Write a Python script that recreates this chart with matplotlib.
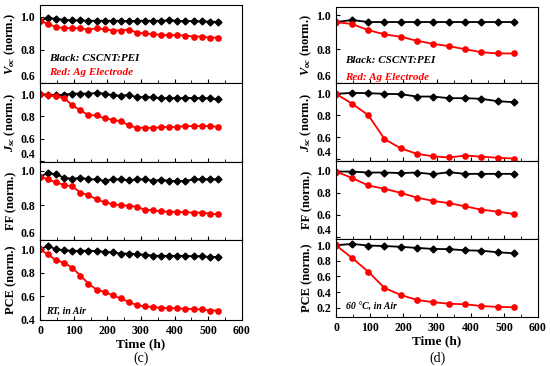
import matplotlib
matplotlib.use("Agg")
import matplotlib.pyplot as plt
import matplotlib.transforms as mtrans
import numpy as np

plt.rcParams['font.family'] = ['Liberation Serif', 'DejaVu Serif']
plt.rcParams['font.weight'] = 'bold'
plt.rcParams['mathtext.fontset'] = 'custom'
plt.rcParams['mathtext.rm'] = 'Liberation Serif:bold'
plt.rcParams['mathtext.it'] = 'Liberation Serif:bold:italic'

### data (c) : RT, in air, every 24 h
t_c = np.arange(0, 529, 24)
voc_c_black = [0.975, 0.994, 0.985, 0.981, 0.977, 0.977, 0.975, 0.975, 0.975, 0.975, 0.975, 0.973,
               0.975, 0.975, 0.975, 0.975, 0.977, 0.975, 0.973, 0.973, 0.971, 0.970, 0.968]
voc_c_red = [0.975, 0.956, 0.937, 0.931, 0.931, 0.929, 0.922, 0.929, 0.924, 0.916, 0.916, 0.922,
             0.903, 0.899, 0.895, 0.890, 0.888, 0.888, 0.886, 0.880, 0.880, 0.872, 0.874]
jsc_c_black = [1.0, 0.995, 0.99, 0.995, 1.005, 1.005, 1.005, 1.01, 1.005, 0.99, 0.985, 0.995,
               0.97, 0.975, 0.97, 0.965, 0.965, 0.965, 0.965, 0.965, 0.965, 0.962, 0.955]
jsc_c_red = [1.0, 0.991, 0.979, 0.964, 0.90, 0.854, 0.812, 0.809, 0.782, 0.77, 0.755, 0.72,
             0.696, 0.70, 0.695, 0.705, 0.705, 0.705, 0.713, 0.713, 0.713, 0.713, 0.705]
ff_c_black = [0.965, 0.987, 0.978, 0.96, 0.952, 0.96, 0.95, 0.95, 0.941, 0.95, 0.95, 0.945,
              0.95, 0.95, 0.941, 0.948, 0.941, 0.941, 0.941, 0.95, 0.95, 0.95, 0.95]
ff_c_red = [0.965, 0.95, 0.932, 0.917, 0.91, 0.873, 0.859, 0.835, 0.817, 0.807, 0.80, 0.798,
            0.791, 0.774, 0.772, 0.765, 0.763, 0.763, 0.76, 0.758, 0.758, 0.752, 0.748]
pce_c_black = [1.0, 1.03, 1.0, 0.994, 0.988, 0.988, 0.99, 0.986, 0.98, 0.974, 0.965, 0.965,
               0.96, 0.954, 0.948, 0.945, 0.945, 0.945, 0.945, 0.942, 0.942, 0.936, 0.936]
pce_c_red = [1.0, 0.957, 0.907, 0.887, 0.843, 0.777, 0.71, 0.658, 0.638, 0.609, 0.583, 0.554,
             0.525, 0.516, 0.51, 0.504, 0.501, 0.499, 0.496, 0.493, 0.49, 0.48, 0.48]

### data (d) : 60 °C, in air, every 48 h
t_d = np.arange(0, 529, 48)
voc_d_black = [0.961, 0.973, 0.961, 0.961, 0.961, 0.961, 0.961, 0.961, 0.961, 0.961, 0.961, 0.961]
voc_d_red = [0.961, 0.949, 0.913, 0.888, 0.874, 0.85, 0.832, 0.818, 0.80, 0.782, 0.775, 0.775]
jsc_d_black = [1.0, 1.009, 1.006, 1.0, 0.997, 0.975, 0.975, 0.96, 0.96, 0.954, 0.932, 0.923]
jsc_d_red = [1.0, 0.908, 0.803, 0.583, 0.497, 0.447, 0.423, 0.413, 0.43, 0.42, 0.41, 0.403]
ff_d_black = [0.994, 0.994, 0.985, 0.985, 0.98, 0.985, 0.97, 0.988, 0.973, 0.973, 0.973, 0.973]
ff_d_red = [0.994, 0.935, 0.867, 0.837, 0.80, 0.757, 0.727, 0.706, 0.677, 0.647, 0.629, 0.608]
pce_d_black = [1.0, 1.017, 0.996, 0.99, 0.98, 0.966, 0.953, 0.95, 0.935, 0.93, 0.91, 0.897]
pce_d_red = [1.0, 0.836, 0.66, 0.453, 0.363, 0.30, 0.27, 0.25, 0.243, 0.22, 0.21, 0.205]

ylabels = ['$V_{oc}$ (norm.)', '$J_{sc}$ (norm.)', 'FF (norm.)', 'PCE (norm.)']

W, H = 550.0, 366.0
fig = plt.figure(figsize=(5.5, 3.66), dpi=100)


def make_axes(x0, x1, rows):
    axs = []
    for k in range(4):
        top, bot = rows[k], rows[k + 1]
        ax = fig.add_axes([x0 / W, 1 - bot / H, (x1 - x0) / W, (bot - top) / H])
        axs.append(ax)
    return axs


def style(ax, ylim, yticks, bottom):
    ax.set_xlim(0, 600)
    ax.set_ylim(*ylim)
    ax.set_xticks(np.arange(0, 601, 100))
    ax.set_xticks(np.arange(50, 600, 100), minor=True)
    ax.tick_params(direction='in', which='both', top=False, right=False, labelsize=8.5)
    ax.tick_params(which='major', length=3)
    ax.tick_params(which='minor', length=2)
    for s in ax.spines.values():
        s.set_linewidth(0.8)
    labels = ['%.1f' % v for v in yticks]
    if not bottom:
        ax.tick_params(labelbottom=False)
        # lowest label sits on the panel edge instead of centred (Origin style)
        tr = mtrans.blended_transform_factory(ax.transAxes, ax.transData)
        tr = mtrans.offset_copy(tr, fig=fig, x=-3.5, y=0, units='points')
        ax.text(0, yticks[0], labels[0], transform=tr, ha='right', va='bottom',
                fontsize=8.5, fontweight='bold')
        labels[0] = ''
    ax.set_yticks(yticks)
    ax.set_yticklabels(labels)


def panel(axs, t, sets, ylims, yticks, note, note_xy, txt_y):
    for k, ax in enumerate(axs):
        blk, red = sets[k]
        ax.plot(t, blk, color='black', marker='D', ms=3.5, lw=1.3)
        ax.plot(t, red, color='red', marker='o', ms=3.8, lw=1.3)
        style(ax, ylims[k], yticks[k], k == 3)
        ax.set_ylabel(ylabels[k], fontsize=9, fontweight='bold', labelpad=2)
    axs[0].text(0.045, txt_y[0], 'Black: CSCNT:PEI', transform=axs[0].transAxes, fontsize=8,
                style='italic', fontweight='bold', color='black', va='center')
    axs[0].text(0.045, txt_y[1], 'Red: Ag Electrode', transform=axs[0].transAxes, fontsize=8,
                style='italic', fontweight='bold', color='red', va='center')
    axs[3].text(note_xy[0], note_xy[1], note, transform=axs[3].transAxes, fontsize=7,
                style='italic', fontweight='bold', va='center')
    axs[3].set_xlabel('Time (h)', fontsize=9.5, fontweight='bold', labelpad=1)


ax_c = make_axes(40, 242, [5, 83, 162, 240, 320])
ax_d = make_axes(336, 538, [7, 83, 161, 239, 317])

panel(ax_c, t_c,
      [(voc_c_black, voc_c_red), (jsc_c_black, jsc_c_red),
       (ff_c_black, ff_c_red), (pce_c_black, pce_c_red)],
      [(0.6, 1.07), (0.39, 1.1), (0.6, 1.05), (0.4, 1.08)],
      [[0.6, 0.8, 1.0], [0.4, 0.6, 0.8, 1.0], [0.6, 0.8, 1.0], [0.4, 0.6, 0.8, 1.0]],
      'RT, in Air', (0.03, 0.11), (0.31, 0.14))

panel(ax_d, t_d,
      [(voc_d_black, voc_d_red), (jsc_d_black, jsc_d_red),
       (ff_d_black, ff_d_red), (pce_d_black, pce_d_red)],
      [(0.6, 1.05), (0.38, 1.1), (0.38, 1.09), (0.08, 1.08)],
      [[0.6, 0.8, 1.0], [0.4, 0.6, 0.8, 1.0], [0.4, 0.6, 0.8, 1.0], [0.2, 0.4, 0.6, 0.8, 1.0]],
      '60 °C, in Air', (0.05, 0.14), (0.29, 0.07))

fig.text(141 / W, 1 - 358 / H, '(c)', ha='center', va='center', fontsize=10, fontweight='normal')
fig.text(437 / W, 1 - 358 / H, '(d)', ha='center', va='center', fontsize=10, fontweight='normal')

fig.savefig('out.png', dpi=100)
